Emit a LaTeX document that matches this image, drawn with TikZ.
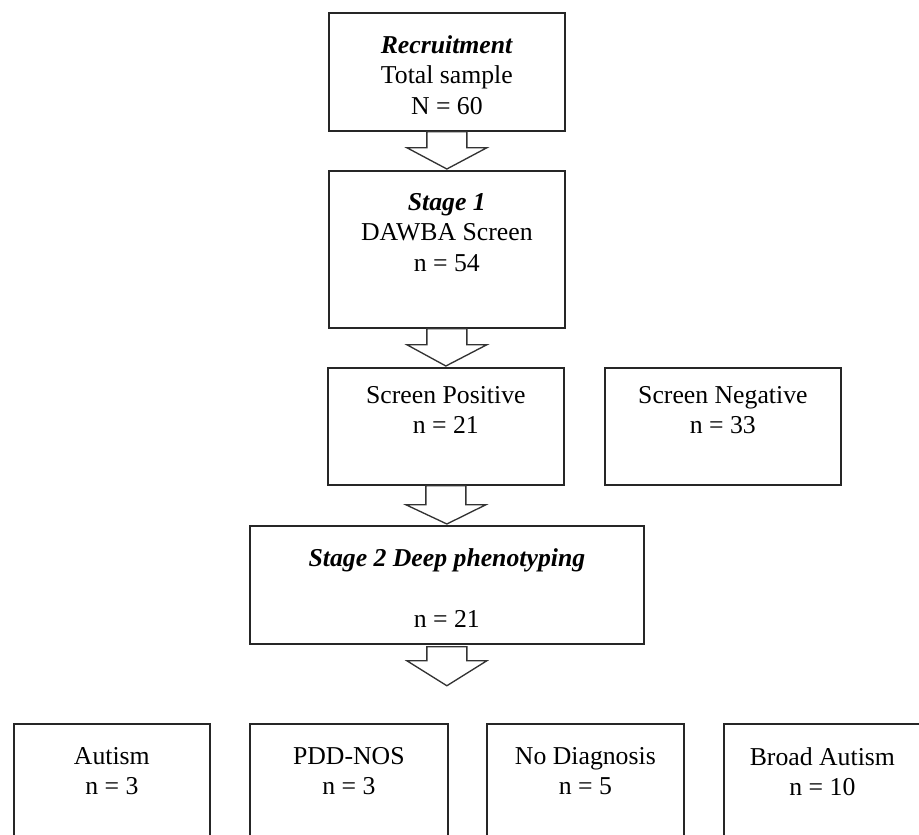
\documentclass[tikz,border=0pt]{standalone}
\usepackage{fontspec}
\setmainfont{Liberation Serif}
\usetikzlibrary{calc}

\tikzset{
  box/.style={draw=black!85, line width=1.3pt, anchor=north west, inner sep=0pt,
    minimum width=177pt, minimum height=88.5pt},
  boxtext/.style={anchor=north, inner sep=0pt, align=center,
    font=\fontsize{19.3}{22.9}\selectfont},
  blockarrow/.style={draw=black!80, line width=1pt, fill=white, line join=miter}
}

\begin{document}
\begin{tikzpicture}[x=0.75pt,y=0.75pt,yscale=-1]
\useasboundingbox (0,0) rectangle (919,834);
\clip (0,0) rectangle (919,834);

%Shape: Rectangle [recruitment]
\node[box] (rec) at (328,12) {};
%Shape: Rectangle [stage 1]
\node[box, minimum height=117.75pt] (stg1) at (328,170) {};
%Shape: Rectangle [screen positive]
\node[box, minimum height=87.75pt] (pos) at (327,367) {};
%Shape: Rectangle [screen negative]
\node[box, minimum height=87.75pt] (neg) at (604,367) {};
%Shape: Rectangle [stage 2]
\node[box, minimum width=295.5pt] (stg2) at (249,525) {};
%Shape: Rectangle [outcomes]
\node[box, minimum width=147pt, minimum height=90pt] (aut) at (13,723) {};
\node[box, minimum width=148.5pt, minimum height=90pt] (pdd) at (249,723) {};
\node[box, minimum width=147.75pt, minimum height=90pt] (nod) at (486,723) {};
\node[box, minimum width=147.75pt, minimum height=90pt] (brd) at (723,723) {};

% Text Node
\node[boxtext] (recT) at ($(rec.north)+(0,23)$) {\textbf{\textit{Recruitment}}\\Total sample\\N = 60};
% Text Node
\node[boxtext] (stg1T) at ($(stg1.north)+(0,23)$) {\textbf{\textit{Stage 1}}\\DAWBA Screen\\n = 54};
% Text Node
\node[boxtext] (posT) at ($(pos.north)+(0,19)$) {Screen Positive\\n = 21};
% Text Node
\node[boxtext] (negT) at ($(neg.north)+(0,19)$) {Screen Negative\\n = 33};
% Text Node
\node[boxtext] (stg2T) at ($(stg2.north)+(0,23)$) {\textbf{\textit{Stage 2 Deep phenotyping}}\\[22.9pt]n = 21};
% Text Node
\node[boxtext] (autT) at ($(aut.north)+(0,24)$) {Autism\\n = 3};
% Text Node
\node[boxtext] (pddT) at ($(pdd.north)+(0,24)$) {PDD-NOS\\n = 3};
% Text Node
\node[boxtext] (nodT) at ($(nod.north)+(0,24)$) {No Diagnosis\\n = 5};
% Text Node
\node[boxtext] (brdT) at ($(brd.north)+(0,24)$) {Broad Autism\\n = 10};

%Block Arrows
\draw[blockarrow] ($(rec.south)+(-20,0)$) -- ++(0,16) -- ++(-20,0) -- ($(stg1.north)+(0,-1)$)
  -- ($(rec.south)+(40,16)$) -- ++(-20,0) -- ($(rec.south)+(20,0)$) -- cycle;
\draw[blockarrow] ($(stg1.south)+(-20,0)$) -- ++(0,16) -- ++(-20,0) -- ($(pos.north)+(0,-1)$)
  -- ($(stg1.south)+(40,16)$) -- ++(-20,0) -- ($(stg1.south)+(20,0)$) -- cycle;
\draw[blockarrow] ($(pos.south)+(-20,0)$) -- ++(0,19) -- ++(-20,0) -- ($(stg2.north)+(0,-1)$)
  -- ($(pos.south)+(40,19)$) -- ++(-20,0) -- ($(pos.south)+(20,0)$) -- cycle;
\coordinate (split) at ($(stg2.south)+(0,41)$);
\draw[blockarrow] ($(stg2.south)+(-20,2)$) -- ++(0,14) -- ++(-20,0) -- (split)
  -- ($(stg2.south)+(40,16)$) -- ++(-20,0) -- ($(stg2.south)+(20,2)$) -- cycle;

\end{tikzpicture}
\end{document}
